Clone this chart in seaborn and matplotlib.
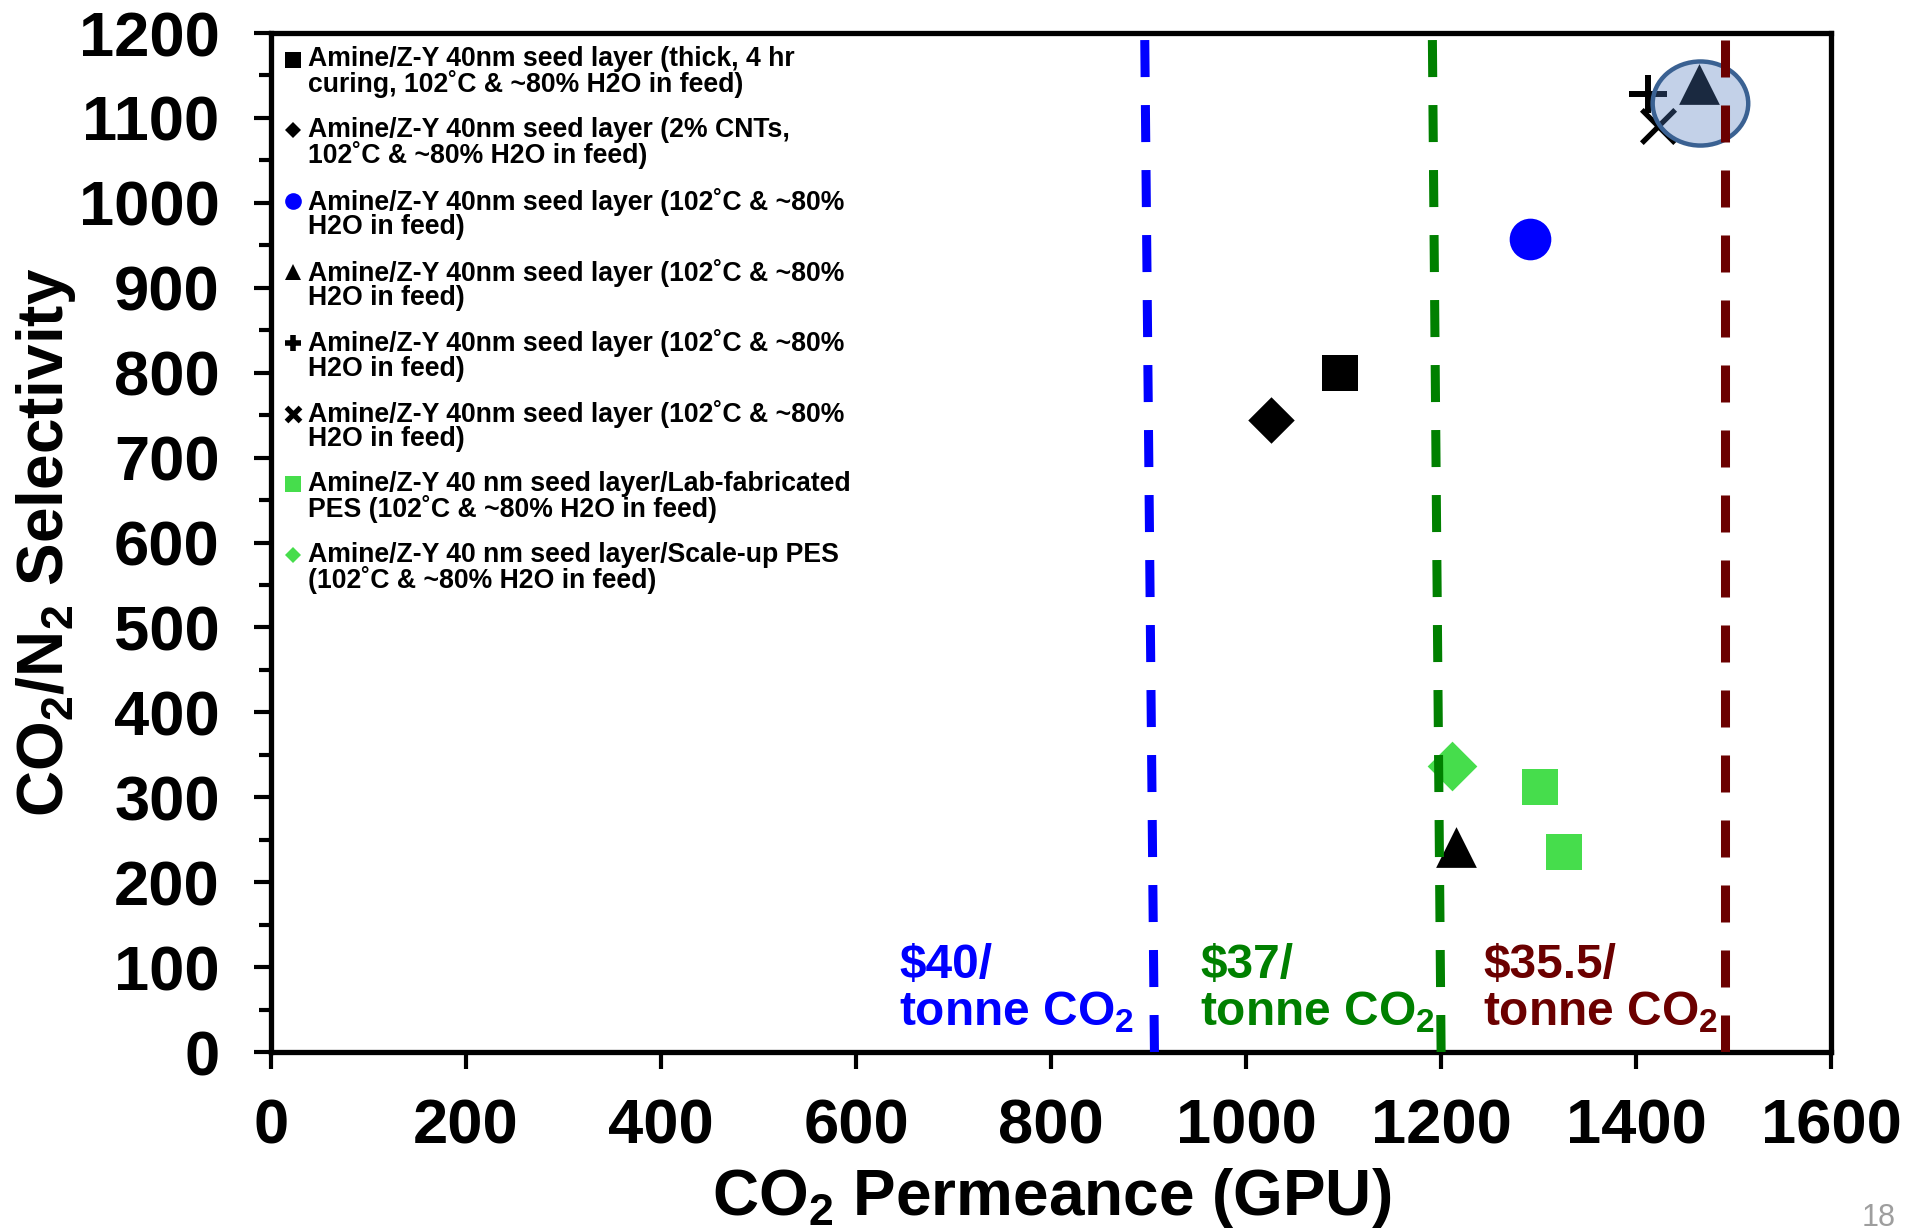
import numpy as np
import matplotlib
matplotlib.use('Agg')
import matplotlib.pyplot as plt
import seaborn as sns
from matplotlib.lines import Line2D
from matplotlib.patches import Ellipse
from matplotlib.ticker import MultipleLocator
from matplotlib.legend_handler import HandlerLine2D

# ---------------- data ----------------
labels = [
    'Amine/Z-Y 40nm seed layer (thick, 4 hr\ncuring, 102˚C & ~80% H2O in feed)',
    'Amine/Z-Y 40nm seed layer (2% CNTs,\n102˚C & ~80% H2O in feed)',
    'Amine/Z-Y 40nm seed layer (102˚C & ~80%\nH2O in feed)',
    'Amine/Z-Y 40nm seed layer (102˚C & ~80%\nH2O in feed)',
    'Amine/Z-Y 40nm seed layer (102˚C & ~80%\nH2O in feed)',
    'Amine/Z-Y 40nm seed layer (102˚C & ~80%\nH2O in feed)',
    'Amine/Z-Y 40 nm seed layer/Lab-fabricated\nPES (102˚C & ~80% H2O in feed)',
    'Amine/Z-Y 40 nm seed layer/Scale-up PES\n(102˚C & ~80% H2O in feed)',
]
thick_perm = [1096]
thick_sel = [800]
cnt_perm = [1026]
cnt_sel = [744]
circle_perm = [1291]
circle_sel = [958]
triangle_perm = [1215, 1464]
triangle_sel = [241, 1140]
plus_perm = [1412]
plus_sel = [1128]
cross_perm = [1422]
cross_sel = [1091]
lab_pes_perm = [1301, 1326]
lab_pes_sel = [312, 236]
scaleup_perm = [1211]
scaleup_sel = [337]

# cost threshold lines (permeance at bottom / top of the axes)
cost_labels = ['$40/\ntonne CO$_2$', '$37/\ntonne CO$_2$', '$35.5/\ntonne CO$_2$']
cost_perm_bottom = [906, 1200, 1491]
cost_perm_top = [896, 1191, 1491]
cost_sel_span = [0, 1200]
cost_text_perm = [644, 953, 1243]

x_ticks = [0, 200, 400, 600, 800, 1000, 1200, 1400, 1600]
y_ticks = [0, 100, 200, 300, 400, 500, 600, 700, 800, 900, 1000, 1100, 1200]

# ---------------- style ----------------
sns.set_style('ticks')
plt.rcParams['font.family'] = ['Liberation Sans', 'DejaVu Sans']
plt.rcParams['font.weight'] = 'bold'
plt.rcParams['mathtext.fontset'] = 'custom'
plt.rcParams['mathtext.rm'] = 'Liberation Sans:bold'
plt.rcParams['mathtext.bf'] = 'Liberation Sans:bold'
plt.rcParams['mathtext.default'] = 'bf'
plt.rcParams['text.color'] = 'black'
plt.rcParams['axes.labelcolor'] = 'black'
plt.rcParams['xtick.color'] = 'black'
plt.rcParams['ytick.color'] = 'black'

blue = '#0000FF'
green = '#008000'
maroon = '#6B0000'
light_green = '#46DD4C'

fig = plt.figure(figsize=(19.09, 12.28), dpi=100)
ax = fig.add_axes([0.142, 0.1433, 0.8172, 0.8298])

# ---------------- markers ----------------
sns.scatterplot(x=thick_perm, y=thick_sel, marker='s', s=676, color='black', linewidth=0, ax=ax, zorder=3)
sns.scatterplot(x=cnt_perm, y=cnt_sel, marker='D', s=560, color='black', linewidth=0, ax=ax, zorder=3)
sns.scatterplot(x=circle_perm, y=circle_sel, marker='o', s=900, color=blue, linewidth=0, ax=ax, zorder=3)
sns.scatterplot(x=triangle_perm, y=triangle_sel, marker='^', s=860, color='black', linewidth=0, ax=ax, zorder=3)
sns.scatterplot(x=plus_perm, y=plus_sel, marker='+', s=729, color='black', linewidth=4.3, ax=ax, zorder=3)
sns.scatterplot(x=cross_perm, y=cross_sel, marker='x', s=576, color='black', linewidth=3.8, ax=ax, zorder=3)
sns.scatterplot(x=lab_pes_perm, y=lab_pes_sel, marker='s', s=676, color=light_green, linewidth=0, ax=ax, zorder=3)
sns.scatterplot(x=scaleup_perm, y=scaleup_sel, marker='D', s=640, color=light_green, linewidth=0, ax=ax, zorder=3)

# highlight around the best points
ax.add_patch(Ellipse((1466, 1117), width=98, height=99, facecolor=(0.31, 0.48, 0.74, 0.34),
                     edgecolor='#3A6192', linewidth=3.2, zorder=3.5))

# ---------------- cost lines + texts ----------------
line_colors = [blue, green, maroon]
for xb, xt, c in zip(cost_perm_bottom, cost_perm_top, line_colors):
    ax.plot([xb, xt], cost_sel_span, color=c, linewidth=6.5, dashes=(4.1, 3.1),
            solid_capstyle='butt', dash_capstyle='butt', zorder=4)
for txt, xp, c in zip(cost_labels, cost_text_perm, line_colors):
    ax.text(xp, 32, txt, color=c, fontsize=34.5, fontweight='bold', ha='left', va='baseline',
            linespacing=1.02)

# ---------------- axes ----------------
ax.set_xlim(0, 1600)
ax.set_ylim(0, 1200)
ax.set_xticks(x_ticks)
ax.set_yticks(y_ticks)
ax.yaxis.set_minor_locator(MultipleLocator(50))
ax.tick_params(axis='both', which='major', labelsize=45.5, width=3, length=12, direction='out',
               color='black', labelcolor='black')
ax.tick_params(axis='y', which='minor', width=3, length=9, direction='out', color='black')
ax.tick_params(axis='y', which='major', pad=25)
ax.tick_params(axis='x', which='major', pad=21)
for lab in ax.get_xticklabels() + ax.get_yticklabels():
    lab.set_fontweight('bold')
for sp in ax.spines.values():
    sp.set_visible(True)
    sp.set_linewidth(3.8)
    sp.set_color('black')

ax.set_xlabel('CO$_2$ Permeance (GPU)', fontsize=46, fontweight='bold', color='black')
ax.set_ylabel('CO$_2$/N$_2$ Selectivity', fontsize=46, fontweight='bold', color='black')
ax.xaxis.set_label_coords(0.5, -0.112)
ax.yaxis.set_label_coords(-0.124, 0.5)


# ---------------- legend ----------------
class FirstLineHandler(HandlerLine2D):
    # put the marker beside the first line of a two-line label
    def create_artists(self, legend, orig_handle, xdescent, ydescent, width, height, fontsize, trans):
        arts = super().create_artists(legend, orig_handle, xdescent, ydescent, width, height, fontsize, trans)
        for a in arts:
            a.set_ydata(np.asarray(a.get_ydata(), dtype=float) + 0.5 * fontsize)
        return arts


proxies = [
    Line2D([], [], ls='none', marker='s', ms=12, color='black', mew=0),
    Line2D([], [], ls='none', marker='D', ms=8.3, color='black', mew=0),
    Line2D([], [], ls='none', marker='o', ms=12, color=blue, mew=0),
    Line2D([], [], ls='none', marker='^', ms=12, color='black', mew=0),
    Line2D([], [], ls='none', marker='+', ms=11, color='black', mew=4),
    Line2D([], [], ls='none', marker='x', ms=10.5, color='black', mew=3.8),
    Line2D([], [], ls='none', marker='s', ms=12, color=light_green, mew=0),
    Line2D([], [], ls='none', marker='D', ms=8, color=light_green, mew=0),
]
leg = ax.legend(proxies, labels, loc='upper left', bbox_to_anchor=(0.0064, 0.987), frameon=False,
                fontsize=19.2, handlelength=0.9, handletextpad=0.1, labelspacing=0.70,
                borderaxespad=0, borderpad=0, handler_map={Line2D: FirstLineHandler()})
for t in leg.get_texts():
    t.set_fontweight('bold')
    t.set_color('black')
    t.set_linespacing(0.91)

fig.text(0.975, 0.0204, '18', color='#9E9E9E', fontsize=22, fontweight='normal', ha='left', va='top')

fig.savefig('out.png', dpi=100)
